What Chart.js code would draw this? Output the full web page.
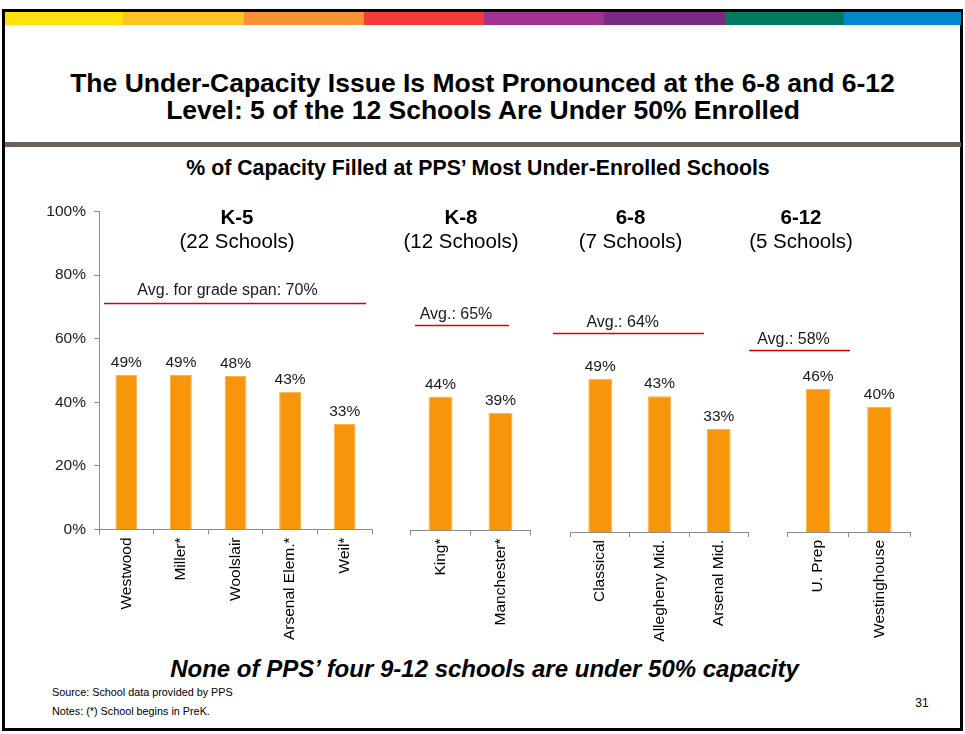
<!DOCTYPE html>
<html>
<head>
<meta charset="utf-8">
<script src="https://cdn.jsdelivr.net/npm/chart.js@4.4.1/dist/chart.umd.min.js"></script>
<style>
  body { margin: 0; width: 965px; height: 734px; background: #fff; position: relative; overflow: hidden; font-family: "Liberation Sans", Arial, sans-serif; }
  .frame { position: absolute; left: 2px; top: 9px; width: 955px; height: 716px; border: 3px solid #000; }
  .stripe { position: absolute; top: 12px; height: 13px; }
  .rule { position: absolute; left: 5px; top: 142px; width: 956px; height: 5px; background: #6b605c; }
  .txt { position: absolute; white-space: nowrap; line-height: 1; color: #000; }
  canvas { position: absolute; left: 0; top: 0; }
</style>
</head>
<body>
<div class="frame"></div>
<div class="rule"></div>
<script>
// grade span groups
const groups = ["K-5", "K-8", "6-8", "6-12"];
const groupCounts = ["(22 Schools)", "(12 Schools)", "(7 Schools)", "(5 Schools)"];

// schools in each group, bar heights and the printed labels
const k5Schools = ["Westwood", "Miller*", "Woolslair", "Arsenal Elem.*", "Weil*"];
const k5Values = [48.6, 48.6, 48.3, 43.3, 33.2];
const k5Labels = ["49%", "49%", "48%", "43%", "33%"];

const k8Schools = ["King*", "Manchester*"];
const k8Values = [42.1, 37.0];
const k8Labels = ["44%", "39%"];

const m68Schools = ["Classical", "Allegheny Mid.", "Arsenal Mid."];
const m68Values = [48.2, 42.7, 32.4];
const m68Labels = ["49%", "43%", "33%"];

const h612Schools = ["U. Prep", "Westinghouse"];
const h612Values = [45.0, 39.4];
const h612Labels = ["46%", "40%"];

// average for each grade span (text and the level the line sits at)
const avgLabels = ["Avg. for grade span: 70%", "Avg.: 65%", "Avg.: 64%", "Avg.: 58%"];
const avgLevels = [71.1, 64.6, 62.5, 57.2];

const yTicks = [0, 20, 40, 60, 80, 100];

const FONT = '"Liberation Sans", Arial, sans-serif';
const barColor = "#f7960b";
const axisColor = "#8c8c8c";

// slide decoration
const stripeColors = ["#ffe10f", "#fec325", "#f89234", "#f23b3a", "#a03391", "#7a2a82", "#007a5e", "#0088cf"];
const stripeEdges = [5, 123, 244, 364, 484, 604, 725, 844, 961];
stripeColors.forEach((col, i) => {
  const d = document.createElement("div");
  d.className = "stripe";
  d.style.left = stripeEdges[i] + "px";
  d.style.width = (stripeEdges[i + 1] - stripeEdges[i]) + "px";
  d.style.background = col;
  document.body.appendChild(d);
});

function text(str, x, base, size, weight, style, align) {
  const d = document.createElement("div");
  d.className = "txt";
  d.textContent = str;
  d.style.fontSize = size + "px";
  d.style.fontWeight = weight || "normal";
  d.style.fontStyle = style || "normal";
  d.style.top = (base - 0.8465 * size) + "px";
  document.body.appendChild(d);
  const w = d.getBoundingClientRect().width;
  if (align === "center") d.style.left = (x - w / 2) + "px";
  else if (align === "right") d.style.left = (x - w) + "px";
  else d.style.left = x + "px";
}

text("The Under-Capacity Issue Is Most Pronounced at the 6-8 and 6-12", 482.5, 92, 26.5, "bold", null, "center");
text("Level: 5 of the 12 Schools Are Under 50% Enrolled", 483, 119.5, 26.5, "bold", null, "center");
text("% of Capacity Filled at PPS\u2019 Most Under-Enrolled Schools", 478, 176, 21.3, "bold", null, "center");
text("None of PPS\u2019 four 9-12 schools are under 50% capacity", 484.5, 677, 24, "bold", "italic", "center");
text("Source: School data provided by PPS", 52, 696, 10.8);
text("Notes: (*) School begins in PreK.", 52, 715, 10.8);
text("31", 922, 707, 12, null, null, "center");

// headers, average lines and value labels
const slideMarks = {
  id: "slideMarks",
  afterDatasetsDraw(chart, args, o) {
    const c = chart.ctx;
    const y = chart.scales.y;
    c.save();
    c.textAlign = "center";
    c.textBaseline = "alphabetic";
    c.fillStyle = "#000";
    c.font = "bold 20.5px " + FONT;
    c.fillText(o.group, o.headerX, 224);
    c.font = "20.5px " + FONT;
    c.fillText(o.count, o.headerX, 248);

    const ly = Math.round(y.getPixelForValue(o.avgLevel)) + 0.5;
    c.strokeStyle = "#e00000";
    c.lineWidth = 1.5;
    c.beginPath();
    c.moveTo(o.avgX0, ly);
    c.lineTo(o.avgX1, ly);
    c.stroke();
    c.fillStyle = "#1a1a1a";
    c.font = "16px " + FONT;
    c.fillText(o.avgLabel, o.avgTextX, ly - o.avgGap);

    c.font = "15.5px " + FONT;
    chart.getDatasetMeta(0).data.forEach((bar, i) => {
      c.fillText(o.labels[i], bar.x, bar.y - 8);
    });
    c.restore();
  }
};

const panels = [
  { schools: k5Schools, values: k5Values, labels: k5Labels, left: 99, right: 372, base: 529.5, headerX: 237, avgX0: 104, avgX1: 366, avgTextX: 227.5, avgGap: 8.5 },
  { schools: k8Schools, values: k8Values, labels: k8Labels, left: 410.5, right: 530.5, base: 530.5, headerX: 461, avgX0: 415, avgX1: 509, avgTextX: 456, avgGap: 6.5 },
  { schools: m68Schools, values: m68Values, labels: m68Labels, left: 570.5, right: 748.5, base: 532, headerX: 630.5, avgX0: 553, avgX1: 704, avgTextX: 622.7, avgGap: 6.5 },
  { schools: h612Schools, values: h612Values, labels: h612Labels, left: 787.5, right: 910, base: 532, headerX: 801, avgX0: 749, avgX1: 850, avgTextX: 793.5, avgGap: 7 }
];

panels.forEach((p, i) => {
  const canvas = document.createElement("canvas");
  canvas.width = 965;
  canvas.height = 734;
  document.body.appendChild(canvas);
  const xHeight = 130;
  const plotH = 318;
  const showY = i === 0;

  new Chart(canvas.getContext("2d"), {
    type: "bar",
    data: {
      labels: p.schools,
      datasets: [{
        data: p.values,
        backgroundColor: barColor,
        borderColor: "#fbb44a",
        borderWidth: { left: 1, right: 1, top: 1, bottom: 0 },
        barPercentage: 0.4,
        categoryPercentage: 1
      }]
    },
    options: {
      responsive: false,
      animation: false,
      events: [],
      layout: {
        padding: {
          left: showY ? 20 : p.left,
          right: 965 - p.right,
          top: p.base - plotH,
          bottom: 734 - p.base - xHeight
        }
      },
      plugins: {
        legend: { display: false },
        tooltip: { enabled: false },
        slideMarks: {
          group: groups[i],
          count: groupCounts[i],
          labels: p.labels,
          avgLabel: avgLabels[i],
          avgLevel: avgLevels[i],
          headerX: p.headerX,
          avgX0: p.avgX0,
          avgX1: p.avgX1,
          avgTextX: p.avgTextX,
          avgGap: p.avgGap
        }
      },
      scales: {
        x: {
          type: "category",
          grid: { offset: true, drawOnChartArea: false, tickLength: 5, color: axisColor },
          border: { color: axisColor },
          ticks: {
            autoSkip: false,
            minRotation: 90,
            maxRotation: 90,
            padding: 3,
            color: "#000",
            font: { family: FONT, size: 15.5 }
          },
          afterFit: (s) => { s.height = xHeight; }
        },
        y: {
          display: showY,
          min: 0,
          max: 100,
          afterBuildTicks: (s) => { s.ticks = yTicks.map((v) => ({ value: v })); },
          ticks: {
            padding: 8,
            color: "#1a1a1a",
            font: { family: FONT, size: 15.5 },
            callback: (v) => v + "%"
          },
          grid: { drawOnChartArea: false, tickLength: 5, color: axisColor },
          border: { color: axisColor },
          afterFit: (s) => { if (showY) s.width = 79; }
        }
      }
    },
    plugins: [slideMarks]
  });
});
</script>
</body>
</html>
